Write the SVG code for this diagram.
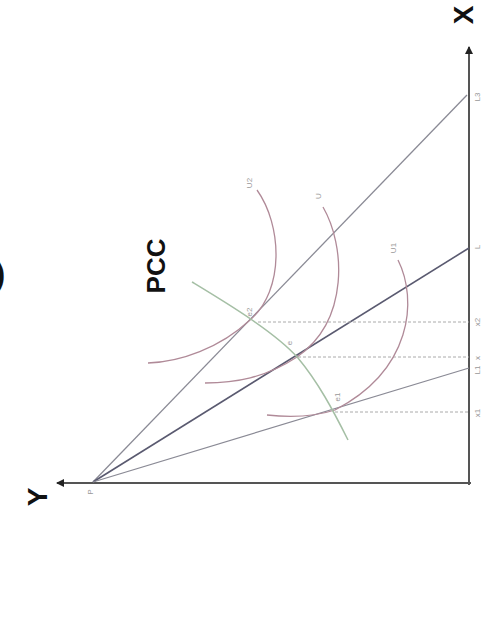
<svg xmlns="http://www.w3.org/2000/svg" width="481" height="632" viewBox="0 0 481 632">
<style>
.axis{stroke:#555;stroke-width:2;fill:none}
.bl{stroke:#8a8a95;stroke-width:1.3;fill:none}
.blm{stroke:#5a5a70;stroke-width:1.6;fill:none}
.ic{stroke:#b08a98;stroke-width:1.3;fill:none}
.pcc{stroke:#a5bfa5;stroke-width:1.5;fill:none}
.dash{stroke:#aaa;stroke-width:1;stroke-dasharray:3,2;fill:none}
.big{font-family:"Liberation Sans",Arial,sans-serif;font-weight:bold;fill:#111}
.sm{font-family:"Liberation Sans",Arial,sans-serif;font-size:8px;fill:#999}
</style>
<defs>
<marker id="arr" markerWidth="8" markerHeight="8" refX="7" refY="4" orient="auto" markerUnits="userSpaceOnUse">
<path d="M0,0 L8,4 L0,8 Z" fill="#222"/>
</marker>
</defs>
<rect width="481" height="632" fill="#fff"/>
<g id="connectors">
<path class="axis" d="M469,485 L469,47" marker-end="url(#arr)"/>
<path class="axis" d="M471,483 L57,483" marker-end="url(#arr)"/>
<path class="bl" d="M93,482 L467,95"/>
<path class="blm" d="M93,482 L469,248"/>
<path class="bl" d="M93,482 L469,368"/>
<path class="dash" d="M258,322 L469,322"/>
<path class="dash" d="M298,357 L469,357"/>
<path class="dash" d="M335,412 L469,412"/>
</g>
<g id="U2"><path class="ic" d="M257,190 C282,225 285,290 250,320 C220,348 180,362 148,363"/><text class="sm" transform="rotate(-90 249 183)" x="249" y="186" text-anchor="middle">U2</text></g>
<g id="U"><path class="ic" d="M323,207 C345,245 350,320 297,357 C265,378 235,383 205,383"/><text class="sm" transform="rotate(-90 318 196)" x="318" y="199" text-anchor="middle">U</text></g>
<g id="U1"><path class="ic" d="M398,260 C418,300 412,370 335,410 C310,418 285,417 267,415"/><text class="sm" transform="rotate(-90 393 248)" x="393" y="251" text-anchor="middle">U1</text></g>
<g id="PCC"><path class="pcc" d="M192,282 C225,302 275,332 298,358 C318,382 333,410 348,440"/><text class="big" font-size="26" transform="rotate(-90 156 266)" x="156" y="275" text-anchor="middle">PCC</text></g>
<g id="points">
<text class="sm" transform="rotate(-90 249 312)" x="249" y="315" text-anchor="middle">e2</text>
<text class="sm" transform="rotate(-90 289 343)" x="289" y="346" text-anchor="middle">e</text>
<text class="sm" transform="rotate(-90 337 397)" x="337" y="400" text-anchor="middle">e1</text>
<text class="sm" transform="rotate(-90 90 492)" x="90" y="495" text-anchor="middle">P</text>
</g>
<g id="axis-labels">
<text class="sm" transform="rotate(-90 477 97)" x="477" y="100" text-anchor="middle">L3</text>
<text class="sm" transform="rotate(-90 477 247)" x="477" y="250" text-anchor="middle">L</text>
<text class="sm" transform="rotate(-90 477 370)" x="477" y="373" text-anchor="middle">L1</text>
<text class="sm" transform="rotate(-90 477 322)" x="477" y="325" text-anchor="middle">x2</text>
<text class="sm" transform="rotate(-90 477 358)" x="477" y="361" text-anchor="middle">x</text>
<text class="sm" transform="rotate(-90 477 413)" x="477" y="416" text-anchor="middle">x1</text>
<text class="big" font-size="28" transform="rotate(-90 463 15)" x="463" y="25" text-anchor="middle">X</text>
<text class="big" font-size="28" transform="rotate(-90 37 497)" x="37" y="507" text-anchor="middle">Y</text>
<text class="big" font-size="34" x="-6" y="285">)</text>
</g>
</svg>
